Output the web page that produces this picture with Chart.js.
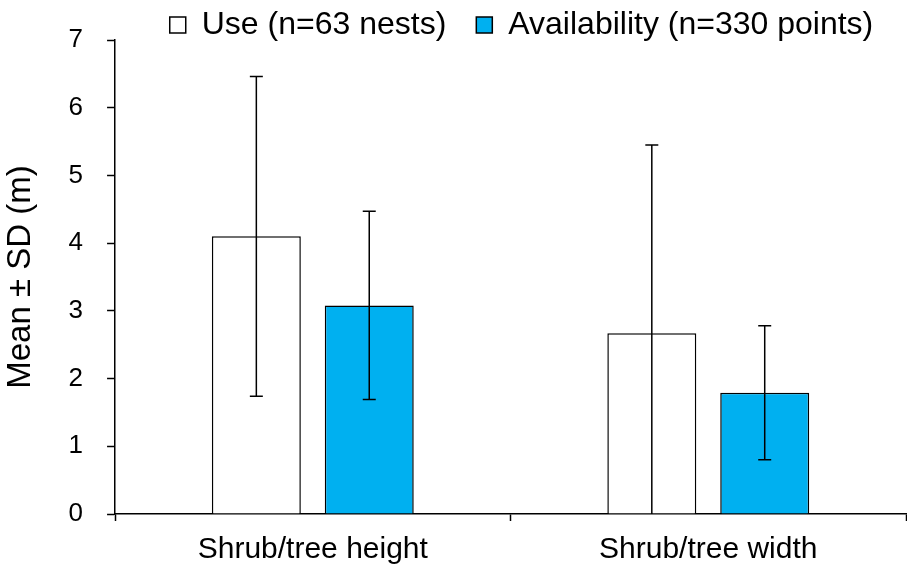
<!DOCTYPE html>
<html>
<head>
<meta charset="utf-8">
<script src="https://cdn.jsdelivr.net/npm/chart.js@4/dist/chart.umd.min.js"></script>
<style>
  html, body { margin: 0; padding: 0; background: #fff; }
  #wrap { width: 907px; height: 568px; }
</style>
</head>
<body>
<div id="wrap"><canvas id="chart"></canvas></div>
<script>
// dados
const categories = ["Shrub/tree height", "Shrub/tree width"]
const useMean = [4.1, 2.67]
const useSd = [2.36, 2.78]
const availMean = [3.08, 1.79]
const availSd = [1.39, 0.99]
const yTicks = [0, 1, 2, 3, 4, 5, 6, 7]

const FONT = "'Liberation Sans', Arial, sans-serif"

// barras de erro (media ± DP), cortadas em zero
const errorBars = {
  id: "errorBars",
  afterDatasetsDraw(chart) {
    const ctx = chart.ctx
    const y = chart.scales.y
    ctx.save()
    ctx.strokeStyle = "#000"
    ctx.lineWidth = 1.5
    chart.data.datasets.forEach((ds, i) => {
      const meta = chart.getDatasetMeta(i)
      meta.data.forEach((bar, j) => {
        const m = ds.data[j]
        const sd = ds.sd[j]
        const top = y.getPixelForValue(m + sd)
        const lo = m - sd
        const bottom = y.getPixelForValue(Math.max(lo, 0))
        ctx.beginPath()
        ctx.moveTo(bar.x, top)
        ctx.lineTo(bar.x, bottom)
        ctx.moveTo(bar.x - 6.5, top)
        ctx.lineTo(bar.x + 6.5, top)
        if (lo > 0) {
          ctx.moveTo(bar.x - 6.5, bottom)
          ctx.lineTo(bar.x + 6.5, bottom)
        }
        ctx.stroke()
      })
    })
    ctx.restore()
  },
}

// legenda deslocada como no original
const legendShift = {
  id: "legendShift",
  afterLayout(chart) {
    const lg = chart.legend
    if (!lg) return
    lg.left += 68
    lg.right += 68
    lg.top += 11
    lg.bottom += 11
  },
}

const ctx = document.getElementById("chart").getContext("2d")
new Chart(ctx, {
  type: "bar",
  data: {
    labels: categories,
    datasets: [
      {
        label: "Use (n=63 nests)",
        data: useMean,
        sd: useSd,
        backgroundColor: "#ffffff",
        borderColor: "#000000",
        borderWidth: 1.5,
      },
      {
        label: "Availability (n=330 points)",
        data: availMean,
        sd: availSd,
        backgroundColor: "#00b0f0",
        borderColor: "#000000",
        borderWidth: 1.5,
      },
    ],
  },
  options: {
    responsive: true,
    maintainAspectRatio: false,
    animation: false,
    datasets: {
      bar: { categoryPercentage: 0.571, barPercentage: 0.788 },
    },
    layout: { padding: { top: -32, right: 1, left: 1, bottom: -11 } },
    plugins: {
      tooltip: { enabled: false },
      legend: {
        position: "top",
        labels: {
          color: "#000",
          font: { family: FONT, size: 32 },
          boxWidth: 16,
          boxHeight: 16,
          padding: 30,
        },
      },
    },
    scales: {
      x: {
        offset: true,
        grid: {
          offset: true,
          drawOnChartArea: false,
          drawTicks: true,
          tickLength: 7,
          tickWidth: 1.5,
          tickColor: "#000",
        },
        border: { display: true, color: "#000", width: 1.5 },
        ticks: { color: "#000", font: { family: FONT, size: 30 }, padding: 11 },
      },
      y: {
        min: 0,
        max: 7,
        afterBuildTicks: (axis) => {
          axis.ticks = yTicks.map((v) => ({ value: v }))
        },
        grid: {
          drawOnChartArea: false,
          drawTicks: true,
          tickLength: 8,
          tickWidth: 1.5,
          tickColor: "#000",
        },
        border: { display: true, color: "#000", width: 1.5 },
        ticks: { color: "#000", font: { family: FONT, size: 26 }, padding: 24 },
        title: {
          display: true,
          text: "Mean ± SD (m)",
          color: "#000",
          font: { family: FONT, size: 33 },
          padding: { top: 0, bottom: 4 },
        },
      },
    },
  },
  plugins: [errorBars, legendShift],
})
</script>
</body>
</html>
